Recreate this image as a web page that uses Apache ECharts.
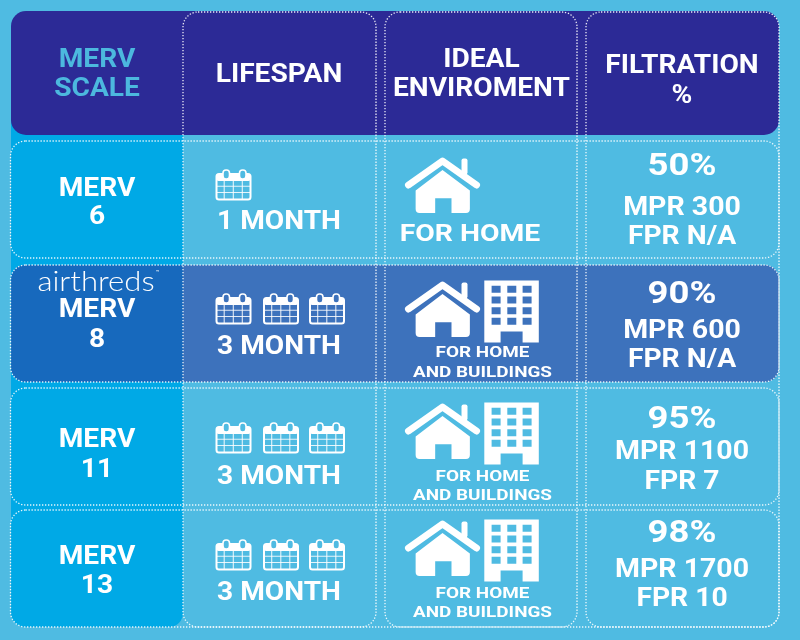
<!DOCTYPE html>
<html>
<head>
<meta charset="utf-8">
<style>html,body{margin:0;padding:0;background:#4fbbe2}#chartmain{width:800px;height:640px}</style>
<script src="https://cdn.jsdelivr.net/npm/echarts@6/dist/echarts.min.js"></script>
</head>
<body>
<div id="chartmain"></div>
<script>
//table data
var headers = ['MERV\nSCALE', 'LIFESPAN', 'IDEAL\nENVIROMENT', 'FILTRATION\n%'];
var mervRatings = ['6', '8', '11', '13'];
var lifespanMonths = [1, 3, 3, 3];
var environments = ['FOR HOME', 'FOR HOME\nAND BUILDINGS', 'FOR HOME\nAND BUILDINGS', 'FOR HOME\nAND BUILDINGS'];
var filtration = [50, 90, 95, 98];
var mprValues = ['MPR 300', 'MPR 600', 'MPR 1100', 'MPR 1700'];
var fprValues = ['FPR N/A', 'FPR N/A', 'FPR 7', 'FPR 10'];
var rowIndexes = [0, 1, 2, 3];

//layout, in axis units (same as pixels)
var rowBox = [[141, 258], [265, 382], [388, 505], [510, 627]];
var colBox = [[183, 376], [385, 577], [586, 779]];
var mervY = [[187, 215], [308, 338], [438, 468], [555, 584]];
var calY = [169, 293, 422, 539];
var calX = [215.5, 263, 309];
var monthY = [220, 345, 475, 591];
var houseY = [157, 281, 403, 520];
var envY = [[232], [351, 371], [475, 494], [592, 611]];
var filterY = [[164, 206, 235], [292, 329, 358], [417, 450, 480], [531, 568, 597]];

var FONT = 'Roboto';
var SX = 1.125; //the type in the picture is stretched sideways
var BG = '#4fbbe2', NAVY = '#2c2a96', LEFT = '#00a9e6', LEFT_DARK = '#1769bd', BAND = '#3d72bc';

function txt(api, str, x, y, size, opts) {
    opts = opts || {};
    var p = api.coord([x, y + 2.5]);
    return {
        type: 'text',
        x: p[0], y: p[1],
        scaleX: opts.sx || SX,
        style: {
            text: str, x: 0, y: 0, fill: opts.fill || '#fff',
            fontFamily: opts.family || FONT, fontSize: size, fontWeight: opts.weight || 700,
            align: 'center', verticalAlign: 'middle'
        }
    };
}

function lines(api, str, x, ys, size, opts) {
    return str.split('\n').map(function (s, i) {
        return txt(api, s, x, ys[i], size, opts);
    });
}

function box(api, x0, y0, x1, y1, r, style) {
    var a = api.coord([x0, y0]), b = api.coord([x1, y1]);
    return {type: 'rect', shape: {x: a[0], y: a[1], width: b[0] - a[0], height: b[1] - a[1], r: r}, style: style};
}

function dotted(api, x0, y0, x1, y1, r) {
    return box(api, x0, y0, x1, y1, r, {fill: 'none', stroke: 'rgba(255,255,255,0.9)', lineWidth: 1.3, lineDash: [1.3, 1.7]});
}

function calendar(api, x, y, holeColor) {
    var p = api.coord([x, y]);
    var st = {stroke: 'rgba(255,255,255,0.85)', lineWidth: 1.1, fill: 'none'};
    var kids = [
        {type: 'rect', shape: {x: 1, y: 5, width: 34, height: 25.5, r: 2.5}, style: {stroke: '#fff', lineWidth: 2, fill: 'none'}},
        {type: 'rect', shape: {x: 1, y: 5, width: 34, height: 7, r: 2}, style: {fill: '#fff'}}
    ];
    [6.5, 23].forEach(function (rx) {
        kids.push({type: 'rect', shape: {x: rx + 1, y: 1, width: 6.5, height: 9, r: 3}, style: {stroke: '#fff', lineWidth: 1.6, fill: holeColor}});
    });
    [17.2, 23.5].forEach(function (ly) {
        kids.push({type: 'line', shape: {x1: 1, y1: ly, x2: 35, y2: ly}, style: st});
    });
    [8.7, 17.8, 26.8].forEach(function (lx) {
        kids.push({type: 'line', shape: {x1: lx, y1: 12, x2: lx, y2: 30}, style: st});
    });
    return {type: 'group', x: p[0], y: p[1], children: kids};
}

function house(api, x, y) {
    var p = api.coord([x, y]);
    return {
        type: 'group', x: p[0], y: p[1],
        children: [
            {type: 'path', shape: {pathData: 'M37.5 12 L65.5 33 L65.5 52 Q65.5 56 61.5 56 L46.7 56 L46.7 41 L30 41 L30 56 L14 56 Q10 56 10 52 L10 33 Z', x: 10, y: 13, width: 55.5, height: 43}, style: {fill: '#fff'}},
            {type: 'polyline', shape: {points: [[3.5, 28], [37.5, 4], [71.5, 28]]}, style: {stroke: '#fff', lineWidth: 7, fill: 'none', lineCap: 'round', lineJoin: 'round'}},
            {type: 'rect', shape: {x: 56.5, y: 1.5, width: 6, height: 16, r: 2}, style: {fill: '#fff'}}
        ]
    };
}

function building(api, x, y) {
    var p = api.coord([x, y]);
    var d = 'M0 0 L54.5 0 L54.5 62 L38.3 62 L38.3 51 L16.3 51 L16.3 62 L0 62 Z ';
    [5.3, 16, 26.7, 37.3].forEach(function (wy) {
        [7.3, 23, 38.3].forEach(function (wx) {
            d += 'M' + wx + ' ' + wy + ' L' + wx + ' ' + (wy + 7) + ' L' + (wx + 9) + ' ' + (wy + 7) + ' L' + (wx + 9) + ' ' + wy + ' Z ';
        });
    });
    return {type: 'path', shape: {pathData: d, x: p[0], y: p[1], width: 54.5, height: 62}, style: {fill: '#fff'}};
}

//backgrounds, header and dotted outlines
function renderFrame(params, api) {
    var kids = [
        box(api, 11, 100, 183, 627, [0, 0, 14, 14], {fill: LEFT}),
        box(api, 11, 265, 183, 382, [14, 0, 0, 14], {fill: LEFT_DARK}),
        box(api, 183, 265, 779, 382, [0, 14, 14, 0], {fill: BAND}),
        box(api, 11, 11, 779, 135, 15, {fill: NAVY})
    ];
    rowBox.forEach(function (r) {
        kids.push(dotted(api, 10.5, r[0], 779, r[1], 15));
    });
    colBox.forEach(function (c) {
        kids.push(dotted(api, c[0], 12, c[1], 627, 15));
    });
    return {type: 'group', children: kids};
}

//one table row
function renderRow(params, api) {
    var i = api.value(0);
    var kids = [];
    kids.push(txt(api, 'MERV', 97, mervY[i][0], 25));
    kids.push(txt(api, mervRatings[i], 97, mervY[i][1], 25));
    if (i === 1) {
        kids.push(txt(api, 'airthreds', 96, 279.5, 27, {family: 'Lato', weight: 300, sx: 1.15}));
        kids.push(txt(api, '™', 158, 270, 6, {weight: 400, sx: 1}));
    }
    var n = lifespanMonths[i];
    for (var c = 0; c < n; c++) {
        kids.push(calendar(api, calX[c], calY[i], i === 1 ? BAND : BG));
    }
    kids.push(txt(api, n + ' MONTH', 279, monthY[i], 25));
    kids.push(house(api, 405, houseY[i]));
    if (i === 0) {
        kids.push(txt(api, environments[i], 470, envY[i][0], 24, {sx: 1.18}));
    } else {
        kids.push(building(api, 484.3, houseY[i] - 0.5));
        kids = kids.concat(lines(api, environments[i], 482.5, envY[i], 15.5, {sx: 1.22}));
    }
    kids.push(txt(api, filtration[i] + '%', 682, filterY[i][0], 32, {sx: 1.14}));
    kids.push(txt(api, mprValues[i], 682, filterY[i][1], 25, {sx: 1.14}));
    kids.push(txt(api, fprValues[i], 682, filterY[i][2], 25, {sx: 1.13}));
    return {type: 'group', children: kids};
}

//header labels
function renderHead(params, api) {
    var kids = [];
    kids = kids.concat(lines(api, headers[0], 97, [58, 87], 25, {fill: '#4cb8de'}));
    kids.push(txt(api, headers[1], 279, 73, 25));
    kids = kids.concat(lines(api, headers[2], 481.5, [58, 87], 25));
    kids = kids.concat(lines(api, headers[3], 682, [64, 94], 25));
    return {type: 'group', children: kids};
}

var option = {
    animation: false,
    backgroundColor: BG,
    grid: {left: 0, right: 0, top: 0, bottom: 0},
    xAxis: {type: 'value', min: 0, max: 800, show: false},
    yAxis: {type: 'value', min: 0, max: 640, inverse: true, show: false},
    series: [
        {type: 'custom', name: 'frame', silent: true, clip: false, renderItem: renderFrame, data: [[0]], encode: {x: 0, y: 0}, z: 1},
        {type: 'custom', name: 'head', silent: true, clip: false, renderItem: renderHead, data: [[0]], encode: {x: 0, y: 0}, z: 2},
        {type: 'custom', name: 'rows', silent: true, clip: false, renderItem: renderRow, data: rowIndexes.map(function (i) { return [i]; }), encode: {x: 0, y: 0}, z: 3}
    ]
};

var myChart = echarts.init(document.getElementById('chartmain'));
myChart.setOption(option);
</script>
</body>
</html>
